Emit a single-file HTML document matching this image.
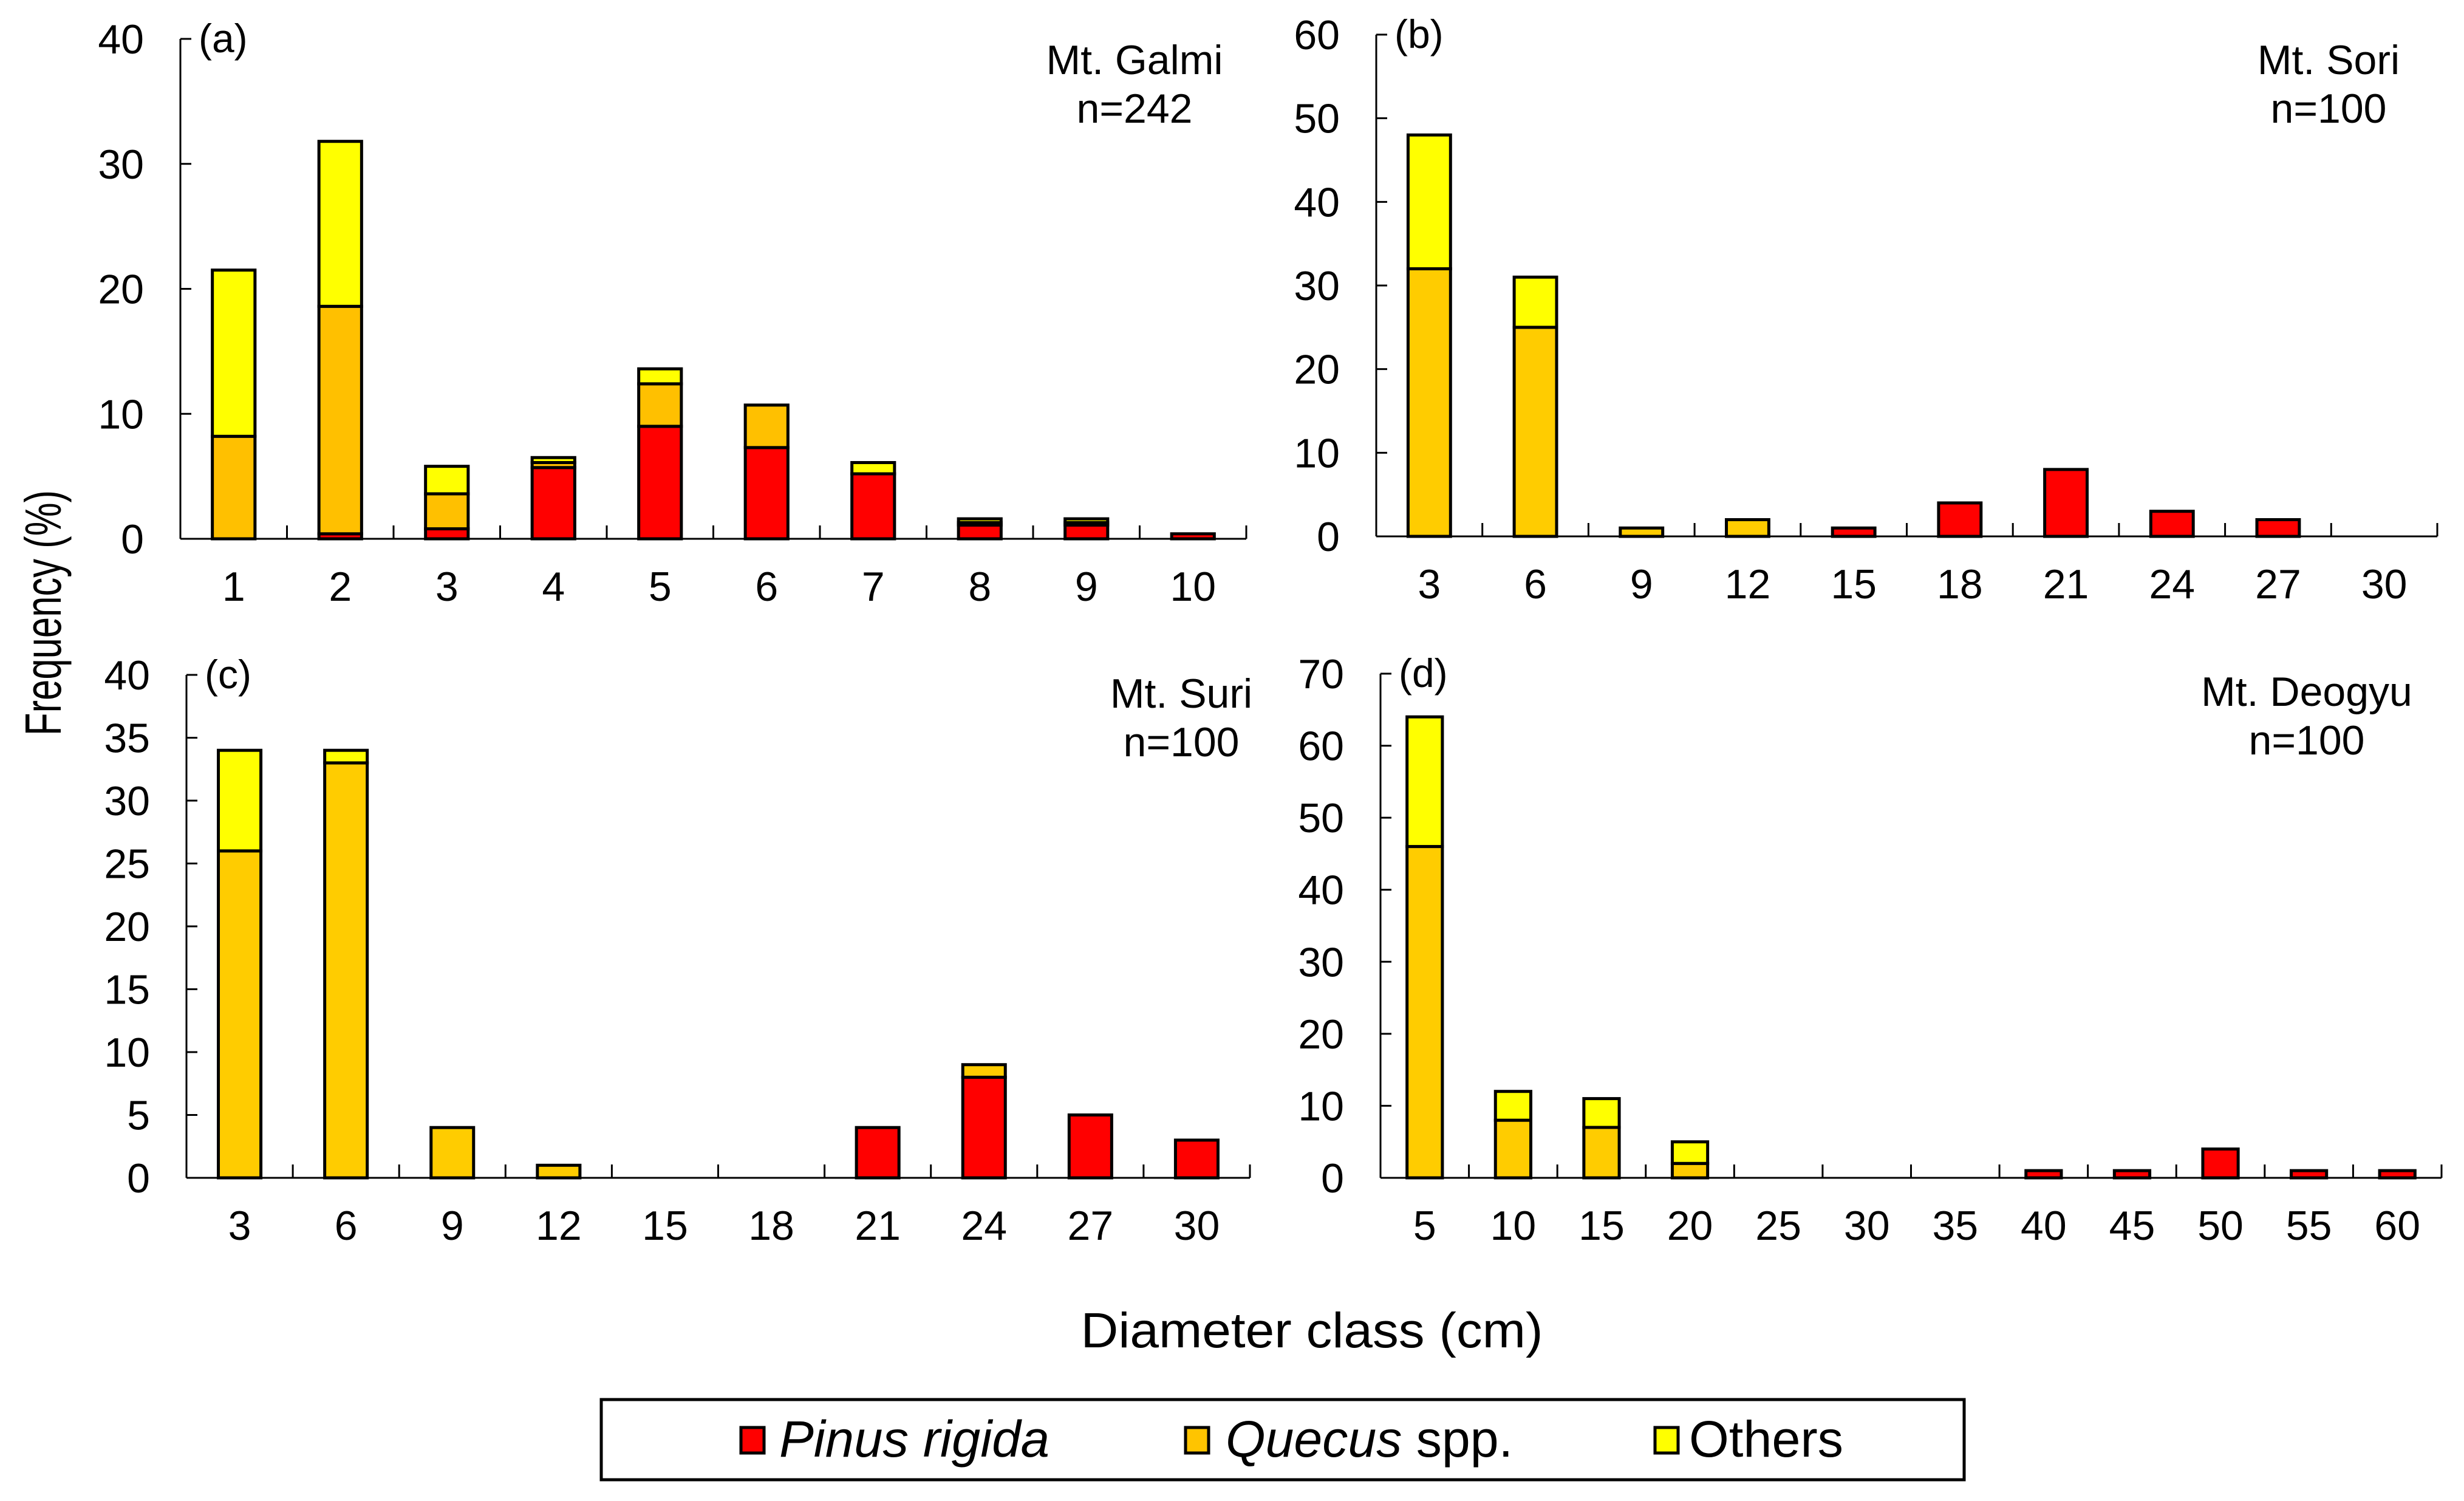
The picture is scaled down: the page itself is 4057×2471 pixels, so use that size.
<!DOCTYPE html>
<html><head><meta charset="utf-8"><style>
html,body{margin:0;padding:0;background:#fff;}
svg{display:block;font-family:"Liberation Sans",Arial,sans-serif;}
</style></head><body>
<svg id="chart" width="4057" height="2471" viewBox="0 0 4057 2471" xmlns="http://www.w3.org/2000/svg">
<text x="0" y="0" transform="translate(100,1009) rotate(-90)" text-anchor="middle" font-size="84" textLength="404" lengthAdjust="spacingAndGlyphs">Frequency (%)</text>
<text x="2160" y="2218" text-anchor="middle" font-size="82" textLength="761" lengthAdjust="spacingAndGlyphs">Diameter class (cm)</text>
<g>
<rect x="990" y="2304" width="2244" height="132" fill="#fff" stroke="#000" stroke-width="5"/>
<g><rect x="1220" y="2350" width="38" height="42" fill="#FF0000" stroke="#000" stroke-width="5"/><text x="1283" y="2398" font-size="84" font-style="italic" textLength="445" lengthAdjust="spacingAndGlyphs">Pinus rigida</text></g>
<g><rect x="1952" y="2350" width="38" height="42" fill="#FFC400" stroke="#000" stroke-width="5"/><text x="2018" y="2398" font-size="84" textLength="473" lengthAdjust="spacingAndGlyphs"><tspan font-style="italic">Quecus</tspan> spp.</text></g>
<g><rect x="2725" y="2350" width="38" height="42" fill="#FFFF00" stroke="#000" stroke-width="5"/><text x="2781" y="2398" font-size="84" textLength="254" lengthAdjust="spacingAndGlyphs">Others</text></g>
</g>
</svg>
<script>
// Panel (a) Mt. Galmi
const catsA = ["1","2","3","4","5","6","7","8","9","10"];
const pinusA = [0,0.4,0.8,5.7,9.0,7.3,5.2,1.1,1.1,0.4];
const quercusA = [8.2,18.2,2.8,0.4,3.4,3.4,0,0.2,0.2,0];
const othersA = [13.3,13.2,2.2,0.4,1.2,0,0.9,0.3,0.3,0];
const ticksA = [0,10,20,30,40];
// Panel (b) Mt. Sori
const catsB = ["3","6","9","12","15","18","21","24","27","30"];
const pinusB = [0,0,0,0,1,4,8,3,2,0];
const quercusB = [32,25,1,2,0,0,0,0,0,0];
const othersB = [16,6,0,0,0,0,0,0,0,0];
const ticksB = [0,10,20,30,40,50,60];
// Panel (c) Mt. Suri
const catsC = ["3","6","9","12","15","18","21","24","27","30"];
const pinusC = [0,0,0,0,0,0,4,8,5,3];
const quercusC = [26,33,4,1,0,0,0,1,0,0];
const othersC = [8,1,0,0,0,0,0,0,0,0];
const ticksC = [0,5,10,15,20,25,30,35,40];
// Panel (d) Mt. Deogyu
const catsD = ["5","10","15","20","25","30","35","40","45","50","55","60"];
const pinusD = [0,0,0,0,0,0,0,1,1,4,1,1];
const quercusD = [46,8,7,2,0,0,0,0,0,0,0,0];
const othersD = [18,4,4,3,0,0,0,0,0,0,0,0];
const ticksD = [0,10,20,30,40,50,60,70];

const NS = "http://www.w3.org/2000/svg";
const svg = document.getElementById("chart");
function mk(tag, attrs, parent){
  const e = document.createElementNS(NS, tag);
  for (const k in attrs) e.setAttribute(k, attrs[k]);
  parent.appendChild(e);
  return e;
}
function panel(id, cfg, cats, pinus, quercus, others, ticks){
  const g = mk("g", {}, svg);
  
  
  const x0 = cfg.x0, x1 = cfg.x1, y0 = cfg.y0, yTop = cfg.yTop;
  const maxV = ticks[ticks.length-1];
  const yS = v => y0 - (v / maxV) * (y0 - yTop);
  const cw = (x1 - x0) / cats.length;
  const xC = i => x0 + cw * (i + 0.5);
  const bw = cw * 0.4;
  ticks.forEach(t => {
    const y = yS(t);
    const tk = mk("line", {x1:x0, x2:x0+18, y1:y, y2:y, stroke:"#000", "stroke-width":3}, g);
    
    
    const lb = mk("text", {x:x0-60, y:y+24, "text-anchor":"end", "font-size":68}, g);
    
    
    lb.textContent = t;
  });
  for (let i = 1; i <= cats.length; i++){
    const x = x0 + cw * i;
    const tk = mk("line", {x1:x, x2:x, y1:y0, y2:y0-22, stroke:"#000", "stroke-width":3}, g);
    
    
  }
  cats.forEach((c, i) => {
    const lb = mk("text", {x:xC(i), y:y0+102, "text-anchor":"middle", "font-size":68}, g);
    
    
    lb.textContent = c;
  });
  const series = [[pinus,"#FF0000","pinus"],[quercus,cfg.orange,"quercus"],[others,"#FFFF00","others"]];
  cats.forEach((c, i) => {
    let base = 0;
    series.forEach(s => {
      const v = s[0][i];
      if (v > 0){
        const yt = yS(base + v), yb = yS(base);
        const r = mk("rect", {x:xC(i)-bw/2, y:yt, width:bw, height:yb-yt, fill:s[1], stroke:"#000", "stroke-width":5}, g);
        
        
      }
      base += v;
    });
  });
  const ya = mk("line", {x1:x0, x2:x0, y1:yTop, y2:y0, stroke:"#000", "stroke-width":3}, g);
  
  
  const xa = mk("line", {x1:x0, x2:x1, y1:y0, y2:y0, stroke:"#000", "stroke-width":3}, g);
  
  
  const pl = mk("text", {x:x0+30, y:yTop+22, "font-size":66}, g);
  
  
  pl.textContent = "(" + id + ")";
  const t1 = mk("text", {x:cfg.tx, y:cfg.ty, "text-anchor":"middle", "font-size":68}, g);
  
  
  t1.textContent = cfg.title;
  const t2 = mk("text", {x:cfg.tx, y:cfg.ty+80, "text-anchor":"middle", "font-size":68}, g);
  
  
  t2.textContent = cfg.n;
}
panel("a", {x0:297, x1:2052, y0:887, yTop:64, orange:"#FFC000", tx:1868, ty:122, title:"Mt. Galmi", n:"n=242"}, catsA, pinusA, quercusA, othersA, ticksA);
panel("b", {x0:2266, x1:4013, y0:883, yTop:57, orange:"#FFCC00", tx:3834, ty:122, title:"Mt. Sori", n:"n=100"}, catsB, pinusB, quercusB, othersB, ticksB);
panel("c", {x0:307, x1:2058, y0:1939, yTop:1111, orange:"#FFCC00", tx:1945, ty:1165, title:"Mt. Suri", n:"n=100"}, catsC, pinusC, quercusC, othersC, ticksC);
panel("d", {x0:2273, x1:4020, y0:1939, yTop:1109, orange:"#FFCC00", tx:3798, ty:1162, title:"Mt. Deogyu", n:"n=100"}, catsD, pinusD, quercusD, othersD, ticksD);
</script>
</body></html>
